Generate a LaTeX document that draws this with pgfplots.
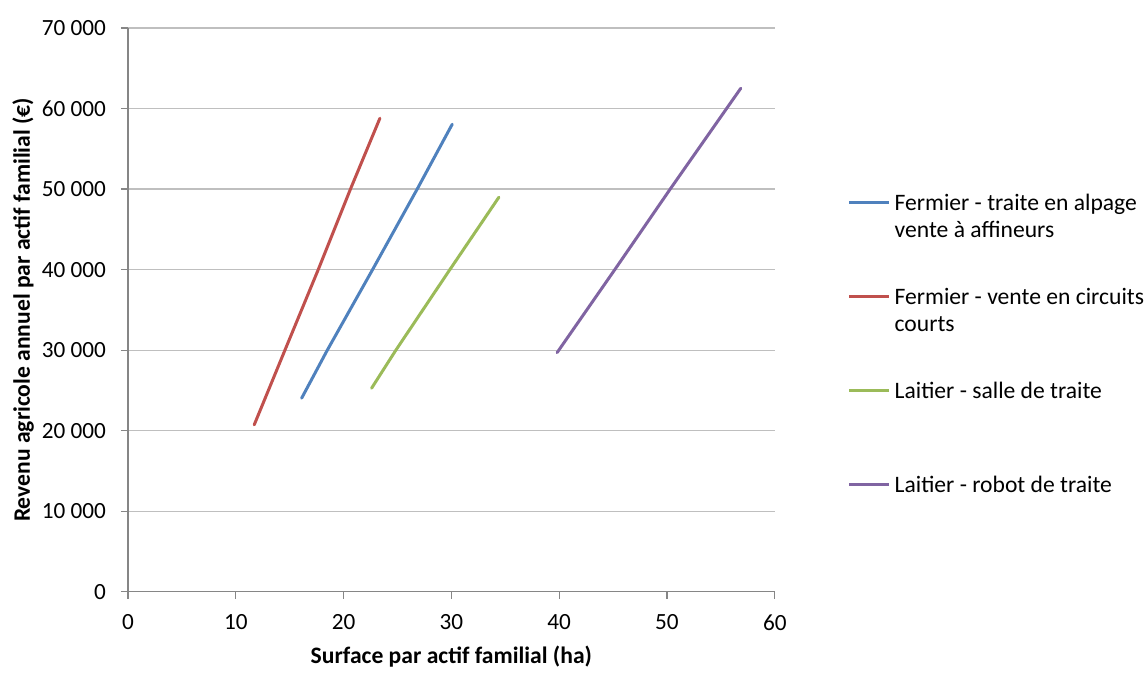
\documentclass[border=0pt]{standalone}
\usepackage{fontspec}
\setmainfont{Carlito}
\usepackage{pgfplots}
\pgfplotsset{compat=1.18}
\definecolor{cblue}{HTML}{4F81BD}
\definecolor{cred}{HTML}{C0504D}
\definecolor{cgreen}{HTML}{9BBB59}
\definecolor{cpurple}{HTML}{8064A2}
\definecolor{axisgray}{HTML}{868686}
\definecolor{gridgray}{HTML}{BFBFBF}
\begin{document}
\begin{tikzpicture}[x=1pt,y=1pt]
\path (0,0) rectangle (572,334);
\begin{axis}[
  at={(64pt,38pt)}, anchor=south west,
  scale only axis, width=323.5pt, height=282pt,
  xmin=0, xmax=60, ymin=0, ymax=70000,
  xtick={0,10,...,60}, ytick={0,10000,...,70000},
  scaled y ticks=false,
  axis lines=left,
  axis line style={draw=axisgray, line width=0.6pt, -},
  ymajorgrids, grid style={draw=gridgray, line width=0.6pt},
  tick align=outside, major tick length=3.5pt,
  tick style={draw=axisgray, line width=0.6pt},
  /pgf/number format/assume math mode=true,
  /pgf/number format/1000 sep={\ },
  tick label style={font=\fontsize{11.6}{13}\selectfont, text=black},
  xticklabel style={yshift=-4.5pt},
  yticklabel style={xshift=-4pt},
  legend style={at={(axis description cs:1.1128,0.7021)}, anchor=north west,
    draw=none, fill=none, inner sep=0pt, outer sep=0pt,
    row sep=0pt, column sep=2pt,
    cells={anchor=base west},
    nodes={inner sep=0pt, text height=7.5pt, text depth=39.5pt,
      font=\fontsize{11.8}{13.5}\selectfont}},
  legend image code/.code={\draw[#1, line width=1.5pt, line cap=butt] (0pt,4pt) -- (20pt,4pt);},
]
\addplot[cblue, line width=1.5pt, line cap=round] coordinates {
  (16.11,24040) (18.49,30000) (22.69,40000) (26.83,50000) (30.08,58050)};
\addlegendentry{\parbox[t]{124pt}{\hbox{Fermier - traite en alpage}\hbox{vente à affineurs}}}
\addplot[cred, line width=1.5pt, line cap=round] coordinates {
  (11.71,20730) (14.56,30000) (17.65,40000) (20.64,50000) (23.37,58790)};
\addlegendentry{\parbox[t]{124pt}{\hbox{Fermier - vente en circuits}\hbox{courts}}}
\addplot[cgreen, line width=1.5pt, line cap=round] coordinates {
  (22.60,25280) (24.85,30000) (29.86,40000) (34.41,48990)};
\addlegendentry{\parbox[t]{124pt}{\hbox{Laitier - salle de traite}}}
\addplot[cpurple, line width=1.5pt, line cap=round] coordinates {
  (39.81,29700) (45.16,40000) (50.30,50000) (56.85,62520)};
\addlegendentry{\parbox[t]{124pt}{\hbox{Laitier - robot de traite}}}
\end{axis}
\node[rotate=90, font=\bfseries\fontsize{11.8}{13}\selectfont] at (11.5,179) {Revenu agricole annuel par actif familial (€)};
\node[font=\bfseries\fontsize{11.8}{13}\selectfont] at (225.75,5.5) {Surface par actif familial (ha)};
\end{tikzpicture}
\end{document}
